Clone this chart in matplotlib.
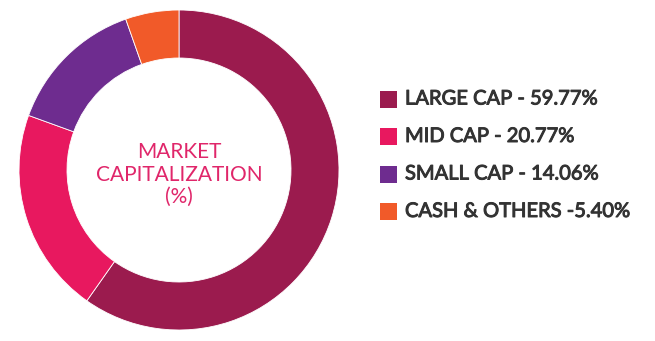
import matplotlib.pyplot as plt
import matplotlib.patheffects as pe
from matplotlib.patches import Rectangle

plt.rcParams['font.family'] = ['Lato', 'DejaVu Sans']

labels = ["LARGE CAP - 59.77%", "MID CAP - 20.77%", "SMALL CAP - 14.06%", "CASH & OTHERS -5.40%"]
shares = [59.77, 20.77, 14.06, 5.40]
colors = ["#9b1b4e", "#e8185f", "#6e2c8f", "#f15a29"]

W, H = 655, 341
fig = plt.figure(figsize=(W / 100, H / 100), dpi=100)

# donut, centre (179, 170) px, radius 160 px
cx, cy, r = 179, 170, 160
ax = fig.add_axes([(cx - r) / W, (H - cy - r) / H, 2 * r / W, 2 * r / H])
ax.pie(shares, colors=colors, startangle=90, counterclock=False, radius=1,
       wedgeprops=dict(width=0.3, edgecolor="white", linewidth=0.6))
ax.set_xlim(-1, 1)
ax.set_ylim(-1, 1)
ax.set_aspect("equal")
ax.axis("off")
ax.text(0, -0.03, "MARKET\nCAPITALIZATION\n(%)", ha="center", va="center",
        color="#e0266a", fontsize=15, linespacing=1.15)

# legend
thick = [pe.withStroke(linewidth=0.7, foreground="#333333")]
y0, step = 99, 37.5
for i, (lab, col) in enumerate(zip(labels, colors)):
    y = y0 + i * step
    fig.patches.append(Rectangle((380 / W, (H - y - 8.5) / H), 17 / W, 17 / H,
                                 transform=fig.transFigure, facecolor=col,
                                 edgecolor="none"))
    fig.text(405 / W, (H - y) / H, lab, ha="left", va="center",
             color="#333333", fontsize=14.5, path_effects=thick)

fig.savefig("out.png", dpi=100, facecolor="white")
